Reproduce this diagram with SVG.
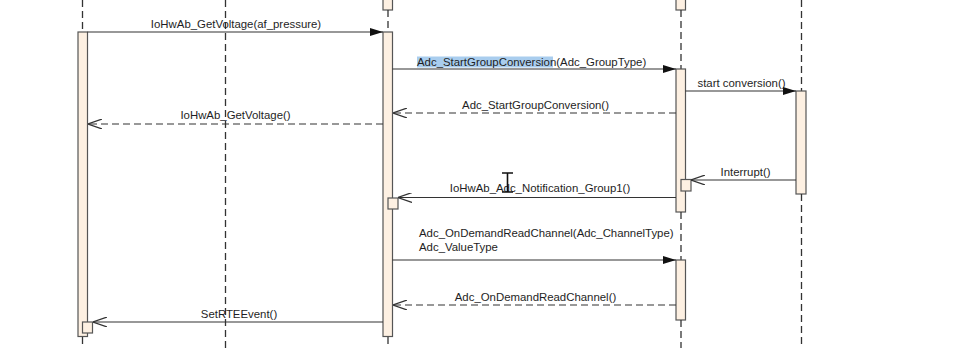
<svg xmlns="http://www.w3.org/2000/svg" width="957" height="348" viewBox="0 0 957 348">
  <style>
    .life { stroke: #333; stroke-width: 1.3; stroke-dasharray: 7 4; fill: none; }
    .bar { fill: #fdf0e2; stroke: #555; stroke-width: 1.2; }
    .msg { stroke: #333; stroke-width: 1.2; fill: none; }
    .ret { stroke: #333; stroke-width: 1.2; fill: none; stroke-dasharray: 7 4; }
    .sync { marker-end: url(#filled); }
    .open { marker-end: url(#openArrow); }
    text { font-family: "Liberation Sans", Arial, sans-serif; font-size: 11.4px; fill: #1e1e24; }
    .c { text-anchor: middle; }
  </style>
  <defs>
    <marker id="filled" viewBox="0 0 13 8" refX="13" refY="4" markerWidth="13" markerHeight="8" markerUnits="userSpaceOnUse" orient="auto">
      <path d="M0,0 L13,4 L0,8 Z" fill="#111"/>
    </marker>
    <marker id="openArrow" viewBox="0 0 14 10" refX="14" refY="5" markerWidth="14" markerHeight="10" markerUnits="userSpaceOnUse" orient="auto">
      <path d="M0,0 L14,5 L0,10" fill="none" stroke="#333" stroke-width="1.2" stroke-dasharray="none"/>
    </marker>
  </defs>

  <rect width="957" height="348" fill="#fff"/>

  <!-- lifelines and activations -->
  <g id="lifeline-app">
    <line class="life" x1="82.5" y1="0" x2="82.5" y2="32"/>
    <line class="life" x1="82.5" y1="337" x2="82.5" y2="348"/>
    <rect class="bar" x="78" y="32" width="9.5" height="304.5"/>
    <rect class="bar" x="82.5" y="322" width="10" height="11"/>
  </g>

  <g id="lifeline-mid">
    <line class="life" x1="225.5" y1="0" x2="225.5" y2="348"/>
  </g>

  <g id="lifeline-iohwab">
    <rect class="bar" x="383" y="-5" width="9.5" height="15"/>
    <line class="life" x1="388" y1="10" x2="388" y2="32"/>
    <line class="life" x1="388" y1="337" x2="388" y2="348"/>
    <rect class="bar" x="383" y="32" width="9.5" height="304.5"/>
    <rect class="bar" x="388" y="198" width="10" height="11"/>
  </g>

  <g id="lifeline-adc">
    <rect class="bar" x="676" y="-5" width="9.5" height="15"/>
    <line class="life" x1="681" y1="10" x2="681" y2="69"/>
    <rect class="bar" x="676" y="69" width="9.5" height="143"/>
    <rect class="bar" x="681" y="179.5" width="10" height="11.5"/>
    <line class="life" x1="681" y1="212" x2="681" y2="260"/>
    <rect class="bar" x="676" y="260" width="9.5" height="60"/>
    <line class="life" x1="681" y1="320" x2="681" y2="348"/>
  </g>

  <g id="lifeline-hw">
    <line class="life" x1="801.5" y1="0" x2="801.5" y2="91"/>
    <rect class="bar" x="796" y="91" width="10" height="103"/>
    <line class="life" x1="801.5" y1="194" x2="801.5" y2="348"/>
  </g>

  <!-- messages -->
  <g id="connectors">
    <line class="msg sync" x1="87.5" y1="32" x2="383" y2="32"/>
    <line class="ret open" x1="383" y1="124" x2="88" y2="124"/>
    <line class="msg sync" x1="392.5" y1="69" x2="676" y2="69"/>
    <line class="ret open" x1="676" y1="113" x2="393" y2="113"/>
    <line class="msg sync" x1="685.5" y1="91" x2="796" y2="91"/>
    <line class="msg open" x1="796" y1="180" x2="691" y2="180"/>
    <line class="msg open" x1="676" y1="197.5" x2="398" y2="197.5"/>
    <line class="msg sync" x1="392.5" y1="260" x2="676" y2="260"/>
    <line class="ret open" x1="676" y1="305" x2="393" y2="305"/>
    <line class="msg open" x1="383" y1="322" x2="93" y2="322"/>
  </g>

  <!-- message labels -->
  <g id="labels">
    <text class="c" x="236" y="28">IoHwAb_GetVoltage(af_pressure)</text>
    <text class="c" x="235.5" y="119">IoHwAb_GetVoltage()</text>
    <rect x="417" y="56.5" width="136" height="11" fill="#a9cdee"/>
    <text x="417" y="65.5">Adc_StartGroupConversion(Adc_GroupType)</text>
    <text class="c" x="535.5" y="109">Adc_StartGroupConversion()</text>
    <text class="c" x="741.5" y="87">start conversion()</text>
    <text class="c" x="745.5" y="176">Interrupt()</text>
    <text class="c" x="540" y="192">IoHwAb_Adc_Notification_Group1()</text>
    <text x="419" y="236.5">Adc_OnDemandReadChannel(Adc_ChannelType)</text>
    <text x="419" y="251">Adc_ValueType</text>
    <text class="c" x="535.5" y="301">Adc_OnDemandReadChannel()</text>
    <text class="c" x="239" y="318">SetRTEEvent()</text>
  </g>

  <!-- text cursor -->
  <path d="M502,173 H513 M507.5,173 V192 M502,192 H513" stroke="#111" stroke-width="1.6" fill="none"/>
</svg>
